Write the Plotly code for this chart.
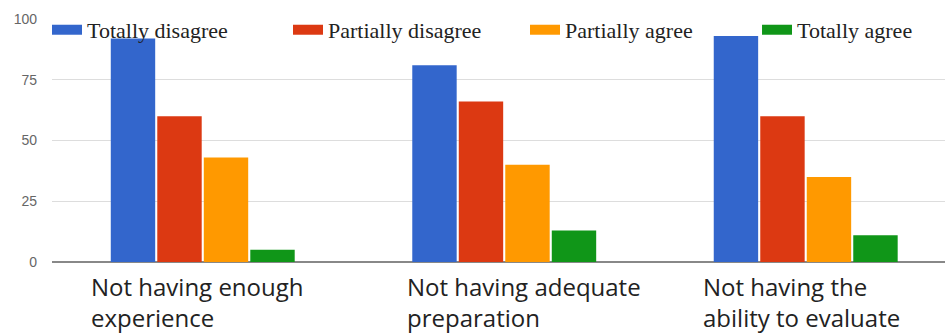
import plotly.graph_objects as go

# Survey responses per obstacle
categories = [
    "Not having enough<br>experience",
    "Not having adequate<br>preparation",
    "Not having the<br>ability to evaluate",
]
series_names = ["Totally disagree", "Partially disagree", "Partially agree", "Totally agree"]
totally_disagree = [92, 81, 93]
partially_disagree = [60, 66, 60]
partially_agree = [43, 40, 35]
totally_agree = [5, 13, 11]
y_ticks = [0, 25, 50, 75, 100]

series_values = [totally_disagree, partially_disagree, partially_agree, totally_agree]
colors = ["#3366CC", "#DC3912", "#FF9900", "#109618"]
label_shift = [-114, -99, -105]
legend_x = [-0.0056, 0.2643, 0.5297, 0.7895]
legend_ids = ["legend", "legend2", "legend3", "legend4"]

x_idx = list(range(len(categories)))

fig = go.Figure()
for name, vals, col in zip(series_names, series_values, colors):
    fig.add_trace(go.Bar(
        x=x_idx, y=vals, name=name, showlegend=False,
        marker=dict(color=col, line=dict(width=0)),
    ))

# Legend keys drawn as wide colour strips, one legend box per series
for name, col, lid in zip(series_names, colors, legend_ids):
    fig.add_trace(go.Scatter(
        x=[None], y=[None], mode="lines", name=name, legend=lid,
        line=dict(color=col, width=13), showlegend=True,
    ))

# Category labels, left-aligned under each group
for i, (cat, dx) in enumerate(zip(categories, label_shift)):
    fig.add_annotation(
        x=i, xref="x", y=0, yref="paper", yanchor="top",
        xanchor="left", align="left", xshift=dx, yshift=-6,
        text=cat, showarrow=False,
        font=dict(family="Open Sans", size=24, color="#222222"),
    )

legend_style = dict(
    orientation="h", xanchor="left", y=0.955, yanchor="middle",
    bgcolor="rgba(0,0,0,0)", borderwidth=0,
    font=dict(family="Liberation Serif", size=22, color="#222222"),
    itemclick=False, itemdoubleclick=False,
)
layout_legends = {}
for lid, lx in zip(legend_ids, legend_x):
    layout_legends[lid] = dict(legend_style, x=lx)

fig.update_layout(
    width=945, height=334,
    margin=dict(l=52, r=0, t=19, b=72),
    paper_bgcolor="white", plot_bgcolor="white",
    barmode="group", bargap=0.383, bargroupgap=0.045,
    xaxis=dict(
        range=[-0.5, 2.462], showticklabels=False, showgrid=False,
        zeroline=False, showline=False, fixedrange=True,
    ),
    yaxis=dict(
        range=[0, 100], tickvals=y_ticks, showgrid=True,
        gridcolor="#DDDDDD", gridwidth=1,
        zeroline=True, zerolinecolor="#888888", zerolinewidth=2,
        tickfont=dict(family="Arial", size=14, color="#666666"),
        ticklabelstandoff=14, showline=False,
    ),
    showlegend=True,
    **layout_legends,
)

fig.write_html("out.html")
